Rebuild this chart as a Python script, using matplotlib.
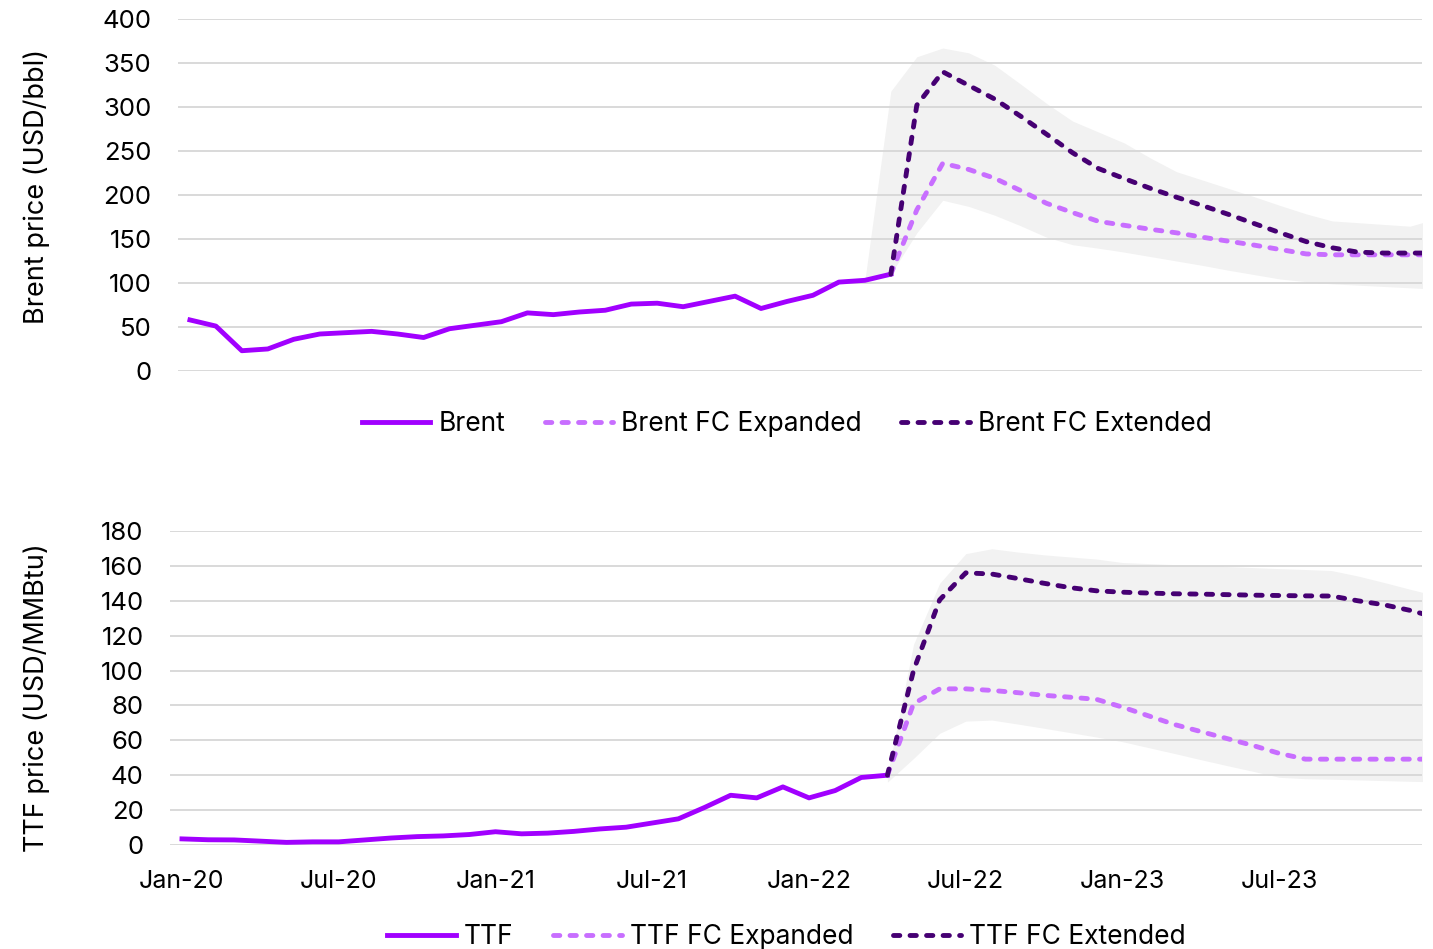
import numpy as np
import matplotlib.pyplot as plt

plt.rcParams['font.family'] = ['Inter', 'DejaVu Sans']

# month index 0 = Jan-20 ... 48 = Jan-24
tick_pos = [0, 6, 12, 18, 24, 30, 36, 42]
tick_labels = ["Jan-20", "Jul-20", "Jan-21", "Jul-21", "Jan-22", "Jul-22", "Jan-23", "Jul-23"]

# Brent (USD/bbl)
brent = [58, 51, 23, 25, 36, 42, 43.5, 45, 42, 38, 48, 52, 56, 66, 64, 67, 69, 76, 77, 73,
         79, 85, 71, 79, 86, 101, 103, 110]
brent_expanded = [110, 183, 236, 229, 219, 205, 190.5, 180, 170, 165.5, 161, 157, 152, 147.5,
                  143, 138, 133, 132, 132, 132, 132, 132]
brent_extended = [110, 302, 340, 324.5, 309, 289.5, 269, 248, 230, 218.5, 207.5, 197.5, 188,
                  178, 167.5, 157, 147, 140, 135, 134, 134, 134]
brent_band_lo = [103, 110, 157, 194, 187, 177, 165, 152, 143.5, 139.5, 135, 130, 125, 120,
                 114.5, 109.5, 104.5, 101.5, 99, 97.5, 96, 94.5, 93]
brent_band_hi = [103, 318, 357, 367, 361.5, 347.5, 326, 304, 284, 271.5, 259, 242, 226.5, 217,
                 207.5, 198, 188, 178.5, 170.5, 168.5, 166.5, 164.5, 173]

# TTF (USD/MMBtu)
ttf = [3.5, 3.0, 2.9, 2.2, 1.5, 1.8, 1.8, 2.9, 4.0, 4.8, 5.2, 6.0, 7.6, 6.4, 6.8, 7.8, 9.2,
       10.2, 12.6, 15, 21.5, 28.5, 27, 33.3, 27, 31.2, 38.7, 40]
ttf_expanded = [40, 81, 89.5, 89.5, 88.6, 87.3, 85.8, 84.7, 83.5, 79, 74, 69, 65, 61, 57,
                52.5, 49.2, 49.2, 49.2, 49.2, 49.2, 49.2]
ttf_extended = [40, 100, 140.5, 156, 155.3, 152.7, 150, 147.5, 145.7, 144.9, 144.4, 144,
                143.8, 143.5, 143.2, 143, 142.8, 142.7, 140, 137.7, 134.5, 130.5]
ttf_band_lo = [36, 49.6, 64, 71, 71.6, 69.3, 66.9, 64.4, 61.9, 59.2, 55.8, 52.4, 48.9, 45.5,
               42.2, 38.8, 38, 37.7, 37.3, 36.9, 36.5, 36.2]
ttf_band_hi = [40, 115, 150, 167, 169.8, 167.9, 166.3, 165.1, 163.9, 161.9, 161.3, 160.7,
               160.2, 159.6, 159, 158.4, 157.9, 157.3, 154.2, 150.5, 146.6, 142.9]

col_hist = "#A100FF"
col_exp = "#C86EFF"
col_ext = "#460073"
col_band = "#F2F2F2"
col_grid = "#D9D9D9"
dash = (1.3, 2.1)


def panel(ax, name, hist, expanded, extended, band_lo, band_hi, band_start, ymax, ystep):
    n_hist = len(hist)
    x_hist = np.arange(n_hist)
    x_fc = np.arange(n_hist - 1, n_hist - 1 + len(expanded))
    x_band = np.arange(band_start, band_start + len(band_lo))

    ax.fill_between(x_band, band_lo, band_hi, color=col_band, linewidth=0, zorder=1)
    ax.plot(x_hist, hist, color=col_hist, lw=3.5, label=name, zorder=3)
    ax.plot(x_fc, expanded, color=col_exp, lw=3.5, dashes=dash, dash_capstyle='round',
            label=name + " FC Expanded", zorder=3)
    ax.plot(x_fc, extended, color=col_ext, lw=3.5, dashes=dash, dash_capstyle='round',
            label=name + " FC Extended", zorder=4)

    ax.set_xlim(-0.46, 47.46)
    ax.set_ylim(0, ymax)
    ax.set_yticks(np.arange(0, ymax + 1, ystep))
    ax.set_axisbelow('line')
    ax.yaxis.grid(True, color=col_grid, lw=1.4)
    for s in ax.spines.values():
        s.set_visible(False)
    ax.tick_params(axis='y', length=0, pad=19, labelsize=18.5)
    ax.tick_params(axis='x', length=0, pad=18, labelsize=18)


fig = plt.figure(figsize=(14.33, 9.49), dpi=100)
ax1 = fig.add_axes([0.1242, 0.6091, 0.8681, 0.3709])
ax2 = fig.add_axes([0.1186, 0.1096, 0.8737, 0.3309])

panel(ax1, "Brent", brent, brent_expanded, brent_extended, brent_band_lo, brent_band_hi, 26, 400, 50)
panel(ax2, "TTF", ttf, ttf_expanded, ttf_extended, ttf_band_lo, ttf_band_hi, 27, 180, 20)

ax1.set_xticks([])
ax2.set_xticks(tick_pos)
ax2.set_xticklabels(tick_labels)

fig.text(0.0258, 0.804, "Brent price (USD/bbl)", rotation=90, ha='center', va='center', fontsize=19.5)
fig.text(0.0258, 0.2645, "TTF price (USD/MMBtu)", rotation=90, ha='center', va='center', fontsize=19.5)

for ax, y in [(ax1, 0.5532), (ax2, 0.0125)]:
    ax.legend(loc='center', bbox_to_anchor=(0.549, y), bbox_transform=fig.transFigure,
              ncol=3, frameon=False, fontsize=19, handlelength=2.6, handletextpad=0.3,
              columnspacing=1.5)

fig.savefig("out.png", dpi=100)
